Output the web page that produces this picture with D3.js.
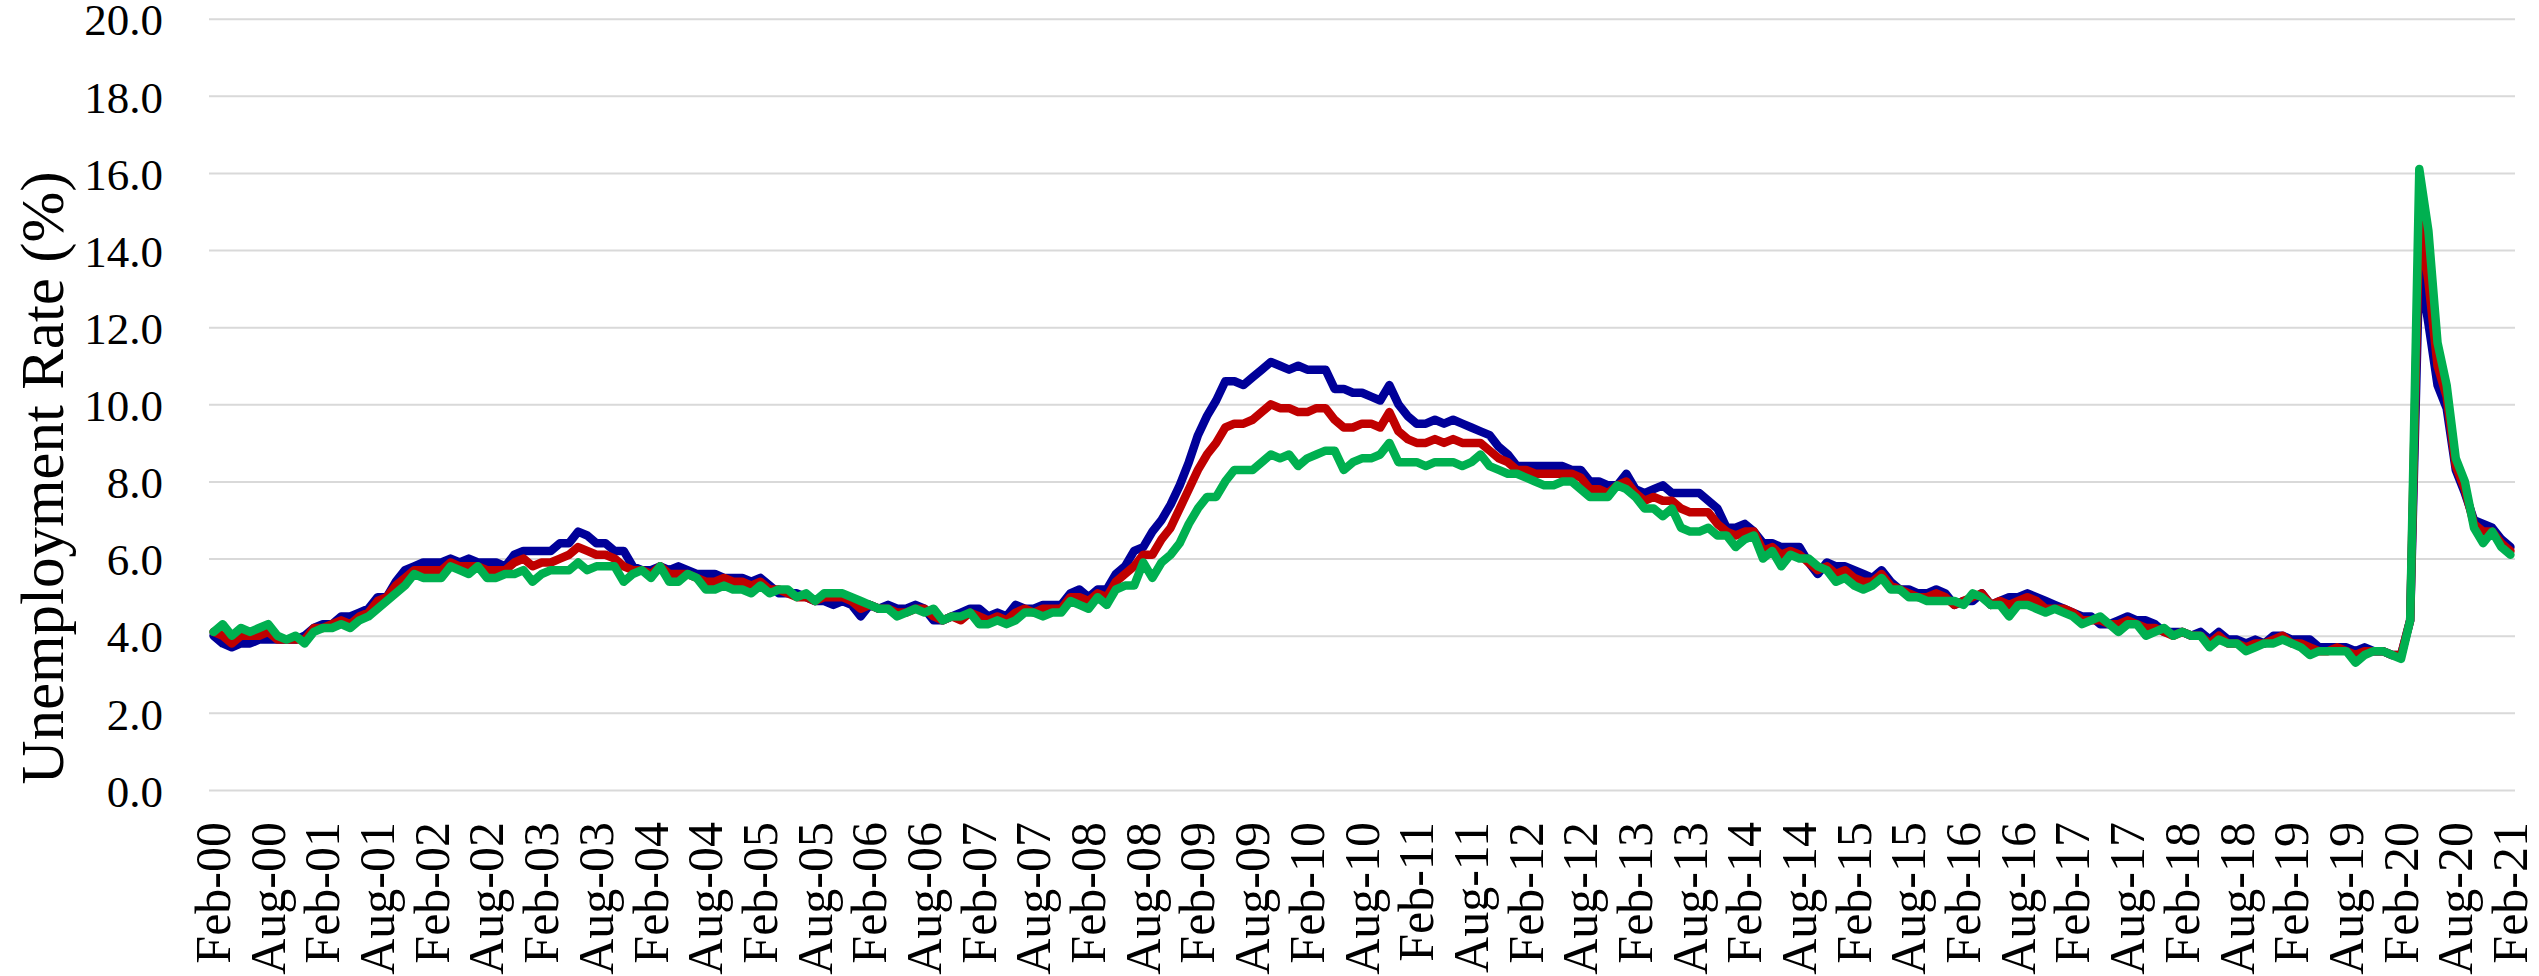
<!DOCTYPE html>
<html>
<head>
<meta charset="utf-8">
<script src="https://cdn.jsdelivr.net/npm/d3@7/dist/d3.min.js"></script>
<style>
  html, body { margin: 0; padding: 0; background: #ffffff; }
  svg { display: block; }
  text { font-family: "Liberation Serif", "DejaVu Serif", serif; fill: #000; }
</style>
</head>
<body>
<svg id="chart" width="2539" height="976"></svg>
<script>
// Monthly categories, Feb-2000 through Feb-2021
const monthNames = ["Jan","Feb","Mar","Apr","May","Jun","Jul","Aug","Sep","Oct","Nov","Dec"];
const categories = [];
for (let y = 2000; y <= 2021; y++) {
  for (let m = 0; m < 12; m++) {
    if (y === 2000 && m < 1) continue;
    if (y === 2021 && m > 1) break;
    categories.push(monthNames[m] + "-" + String(y % 100).padStart(2, "0"));
  }
}

// Axis tick labels
const xTickLabels = [
  "Feb-00","Aug-00","Feb-01","Aug-01","Feb-02","Aug-02","Feb-03","Aug-03","Feb-04","Aug-04",
  "Feb-05","Aug-05","Feb-06","Aug-06","Feb-07","Aug-07","Feb-08","Aug-08","Feb-09","Aug-09",
  "Feb-10","Aug-10","Feb-11","Aug-11","Feb-12","Aug-12","Feb-13","Aug-13","Feb-14","Aug-14",
  "Feb-15","Aug-15","Feb-16","Aug-16","Feb-17","Aug-17","Feb-18","Aug-18","Feb-19","Aug-19",
  "Feb-20","Aug-20","Feb-21"
];
const yTickValues = [0, 2, 4, 6, 8, 10, 12, 14, 16, 18, 20];

// Unemployment rate (%), monthly
const menRate = [
  4.0, 3.8, 3.7, 3.8, 3.8, 3.9, 3.9, 3.9, 3.9, 3.9, 4.0,
  4.2, 4.3, 4.3, 4.5, 4.5, 4.6, 4.7, 5.0, 5.0, 5.4, 5.7, 5.8,
  5.9, 5.9, 5.9, 6.0, 5.9, 6.0, 5.9, 5.9, 5.9, 5.8, 6.1, 6.2,
  6.2, 6.2, 6.2, 6.4, 6.4, 6.7, 6.6, 6.4, 6.4, 6.2, 6.2, 5.8,
  5.7, 5.7, 5.8, 5.7, 5.8, 5.7, 5.6, 5.6, 5.6, 5.5, 5.5, 5.5,
  5.4, 5.5, 5.3, 5.1, 5.1, 5.1, 5.0, 4.9, 4.9, 4.8, 4.9, 4.8,
  4.5, 4.8, 4.7, 4.8, 4.7, 4.7, 4.8, 4.7, 4.4, 4.4, 4.5, 4.6,
  4.7, 4.7, 4.5, 4.6, 4.5, 4.8, 4.7, 4.7, 4.8, 4.8, 4.8, 5.1,
  5.2, 5.0, 5.2, 5.2, 5.6, 5.8, 6.2, 6.3, 6.7, 7.0, 7.4, 7.9,
  8.5, 9.2, 9.7, 10.1, 10.6, 10.6, 10.5, 10.7, 10.9, 11.1, 11.0, 10.9,
  11.0, 10.9, 10.9, 10.9, 10.4, 10.4, 10.3, 10.3, 10.2, 10.1, 10.5, 10.0,
  9.7, 9.5, 9.5, 9.6, 9.5, 9.6, 9.5, 9.4, 9.3, 9.2, 8.9, 8.7,
  8.4, 8.4, 8.4, 8.4, 8.4, 8.4, 8.3, 8.3, 8.0, 8.0, 7.9, 7.9,
  8.2, 7.8, 7.7, 7.8, 7.9, 7.7, 7.7, 7.7, 7.7, 7.5, 7.3, 6.8,
  6.8, 6.9, 6.7, 6.4, 6.4, 6.3, 6.3, 6.3, 5.9, 5.6, 5.9, 5.8,
  5.8, 5.7, 5.6, 5.5, 5.7, 5.4, 5.2, 5.2, 5.1, 5.1, 5.2, 5.1,
  4.8, 4.9, 4.9, 5.1, 4.8, 4.9, 5.0, 5.0, 5.1, 5.0, 4.9, 4.8,
  4.7, 4.6, 4.5, 4.5, 4.3, 4.3, 4.4, 4.5, 4.4, 4.4, 4.3, 4.1,
  4.1, 4.1, 4.0, 4.1, 3.9, 4.1, 3.9, 3.9, 3.8, 3.9, 3.8, 4.0,
  4.0, 3.9, 3.9, 3.9, 3.7, 3.7, 3.7, 3.7, 3.6, 3.7, 3.6, 3.6,
  3.5, 3.5, 4.4, 13.6, 12.1, 10.5, 9.9, 8.3, 7.7, 7.0, 6.9, 6.8,
  6.5, 6.3
];

const totalRate = [
  4.1, 4.0, 3.8, 4.0, 4.0, 4.0, 4.1, 3.9, 3.9, 3.9, 3.9,
  4.2, 4.2, 4.3, 4.4, 4.3, 4.5, 4.6, 4.9, 5.0, 5.3, 5.5, 5.7,
  5.7, 5.7, 5.7, 5.9, 5.8, 5.8, 5.8, 5.7, 5.7, 5.7, 5.9, 6.0,
  5.8, 5.9, 5.9, 6.0, 6.1, 6.3, 6.2, 6.1, 6.1, 6.0, 5.8, 5.7,
  5.7, 5.6, 5.8, 5.6, 5.6, 5.6, 5.5, 5.4, 5.4, 5.5, 5.4, 5.4,
  5.3, 5.4, 5.2, 5.2, 5.1, 5.0, 5.0, 4.9, 5.0, 5.0, 5.0, 4.9,
  4.7, 4.8, 4.7, 4.7, 4.6, 4.6, 4.7, 4.7, 4.5, 4.4, 4.5, 4.4,
  4.6, 4.5, 4.4, 4.5, 4.4, 4.6, 4.7, 4.6, 4.7, 4.7, 4.7, 5.0,
  5.0, 4.9, 5.1, 5.0, 5.4, 5.6, 5.8, 6.1, 6.1, 6.5, 6.8, 7.3,
  7.8, 8.3, 8.7, 9.0, 9.4, 9.5, 9.5, 9.6, 9.8, 10.0, 9.9, 9.9,
  9.8, 9.8, 9.9, 9.9, 9.6, 9.4, 9.4, 9.5, 9.5, 9.4, 9.8, 9.3,
  9.1, 9.0, 9.0, 9.1, 9.0, 9.1, 9.0, 9.0, 9.0, 8.8, 8.6, 8.5,
  8.3, 8.3, 8.2, 8.2, 8.2, 8.2, 8.2, 8.1, 7.8, 7.8, 7.7, 7.9,
  8.0, 7.7, 7.5, 7.6, 7.5, 7.5, 7.3, 7.2, 7.2, 7.2, 6.9, 6.7,
  6.6, 6.7, 6.7, 6.2, 6.3, 6.1, 6.2, 6.1, 5.9, 5.7, 5.8, 5.6,
  5.7, 5.5, 5.4, 5.4, 5.6, 5.3, 5.2, 5.1, 5.0, 5.0, 5.1, 5.0,
  4.8, 4.9, 5.0, 5.1, 4.8, 4.9, 4.8, 4.9, 5.0, 4.9, 4.7, 4.7,
  4.7, 4.6, 4.4, 4.4, 4.4, 4.3, 4.3, 4.4, 4.3, 4.2, 4.2, 4.1,
  4.0, 4.1, 4.0, 4.0, 3.8, 4.0, 3.8, 3.8, 3.7, 3.8, 3.8, 3.9,
  4.0, 3.8, 3.8, 3.7, 3.6, 3.6, 3.7, 3.6, 3.5, 3.6, 3.6, 3.6,
  3.5, 3.5, 4.4, 14.8, 13.2, 11.0, 10.2, 8.4, 7.8, 6.9, 6.7, 6.7,
  6.4, 6.2
];

const womenRate = [
  4.1, 4.3, 4.0, 4.2, 4.1, 4.2, 4.3, 4.0, 3.9, 4.0, 3.8,
  4.1, 4.2, 4.2, 4.3, 4.2, 4.4, 4.5, 4.7, 4.9, 5.1, 5.3, 5.6,
  5.5, 5.5, 5.5, 5.8, 5.7, 5.6, 5.8, 5.5, 5.5, 5.6, 5.6, 5.7,
  5.4, 5.6, 5.7, 5.7, 5.7, 5.9, 5.7, 5.8, 5.8, 5.8, 5.4, 5.6,
  5.7, 5.5, 5.8, 5.4, 5.4, 5.6, 5.5, 5.2, 5.2, 5.3, 5.2, 5.2,
  5.1, 5.3, 5.1, 5.2, 5.2, 5.0, 5.1, 4.9, 5.1, 5.1, 5.1, 5.0,
  4.9, 4.8, 4.7, 4.7, 4.5, 4.6, 4.7, 4.6, 4.7, 4.4, 4.5, 4.5,
  4.6, 4.3, 4.3, 4.4, 4.3, 4.4, 4.6, 4.6, 4.5, 4.6, 4.6, 4.9,
  4.8, 4.7, 5.0, 4.8, 5.2, 5.3, 5.3, 5.9, 5.5, 5.9, 6.1, 6.4,
  6.9, 7.3, 7.6, 7.6, 8.0, 8.3, 8.3, 8.3, 8.5, 8.7, 8.6, 8.7,
  8.4, 8.6, 8.7, 8.8, 8.8, 8.3, 8.5, 8.6, 8.6, 8.7, 9.0, 8.5,
  8.5, 8.5, 8.4, 8.5, 8.5, 8.5, 8.4, 8.5, 8.7, 8.4, 8.3, 8.2,
  8.2, 8.1, 8.0, 7.9, 7.9, 8.0, 8.0, 7.8, 7.6, 7.6, 7.6, 7.9,
  7.8, 7.6, 7.3, 7.3, 7.1, 7.3, 6.8, 6.7, 6.7, 6.8, 6.6, 6.6,
  6.3, 6.5, 6.6, 6.0, 6.2, 5.8, 6.1, 6.0, 6.0, 5.8, 5.7, 5.4,
  5.5, 5.3, 5.2, 5.3, 5.5, 5.2, 5.2, 5.0, 5.0, 4.9, 4.9, 4.9,
  4.9, 4.8, 5.1, 5.0, 4.8, 4.8, 4.5, 4.8, 4.8, 4.7, 4.6, 4.7,
  4.6, 4.5, 4.3, 4.4, 4.5, 4.3, 4.1, 4.3, 4.3, 4.0, 4.1, 4.2,
  4.0, 4.1, 4.0, 4.0, 3.7, 3.9, 3.8, 3.8, 3.6, 3.7, 3.8, 3.8,
  3.9, 3.8, 3.7, 3.5, 3.6, 3.6, 3.6, 3.6, 3.3, 3.5, 3.6, 3.6,
  3.5, 3.4, 4.4, 16.1, 14.5, 11.6, 10.5, 8.6, 8.0, 6.8, 6.4, 6.7,
  6.3, 6.1
];

const seriesList = [
  { name: "Men", values: menRate, color: "#000099" },
  { name: "Total", values: totalRate, color: "#C00000" },
  { name: "Women", values: womenRate, color: "#00B050" }
];

const svg = d3.select("#chart");
const plot = { left: 209, right: 2515, top: 18.7, bottom: 790 };

const x = d3.scalePoint()
  .domain(categories)
  .range([plot.left, plot.right])
  .padding(0.5);

const y = d3.scaleLinear()
  .domain([0, 20])
  .range([plot.bottom, plot.top]);

// Horizontal gridlines with value labels
const yAxis = d3.axisLeft(y)
  .tickValues(yTickValues)
  .tickFormat(d3.format(".1f"))
  .tickSize(-(plot.right - plot.left))
  .tickPadding(46);

const gy = svg.append("g")
  .attr("transform", `translate(${plot.left},0)`)
  .call(yAxis);
gy.select(".domain").remove();
gy.selectAll(".tick line")
  .attr("stroke", "#d9d9d9")
  .attr("stroke-width", 2);
gy.selectAll(".tick text")
  .attr("font-family", "Liberation Serif, DejaVu Serif, serif")
  .attr("font-size", 45)
  .attr("dy", "0.36em")
  .attr("fill", "#000");

// Category axis with vertical month labels
const xAxis = d3.axisBottom(x)
  .tickValues(xTickLabels)
  .tickSize(0);

const gx = svg.append("g")
  .attr("transform", `translate(0,${plot.bottom})`)
  .call(xAxis);
gx.select(".domain").remove();
gx.selectAll(".tick text")
  .attr("font-family", "Liberation Serif, DejaVu Serif, serif")
  .attr("font-size", 50)
  .attr("fill", "#000")
  .attr("text-anchor", "end")
  .attr("transform", "rotate(-90)")
  .attr("x", -32)
  .attr("y", 16)
  .attr("dy", 0);

// Series lines
const line = d3.line()
  .x((d, i) => x(categories[i]))
  .y(d => y(d));

svg.append("g")
  .selectAll("path")
  .data(seriesList)
  .join("path")
  .attr("d", s => line(s.values))
  .attr("fill", "none")
  .attr("stroke", s => s.color)
  .attr("stroke-width", 8.5)
  .attr("stroke-linejoin", "round")
  .attr("stroke-linecap", "round");

// Y axis title
svg.append("text")
  .attr("transform", "translate(63,478) rotate(-90)")
  .attr("text-anchor", "middle")
  .attr("font-size", 61)
  .text("Unemployment Rate (%)");
</script>
</body>
</html>
